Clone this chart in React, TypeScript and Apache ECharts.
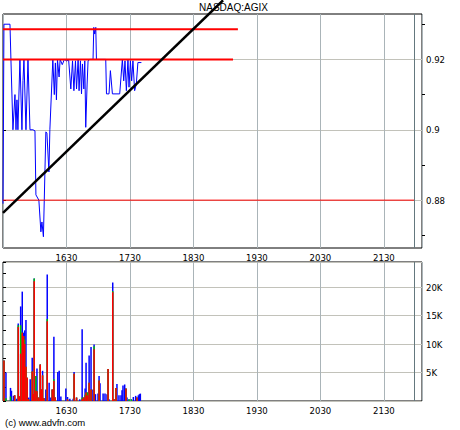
import React, { useEffect, useRef } from "react";
import * as echarts from "echarts";

// ---- price (minutes after 15:30, price) ----
const priceTimes = [
  0, 0.9, 6.6, 7.5, 9.4, 11.3, 12.3, 13.2, 14.1, 16.0, 17.9, 18.9, 19.8, 21.7, 23.6, 25.5, 28.3, 30.2,
  31.1, 33.9, 35.8, 36.8, 38.2, 40.5, 41.5, 43.4, 44.3, 47.1, 48.5, 49.5, 50.5, 51.5, 53, 54, 56, 58,
  60.5, 62, 64.1, 65.7, 67.0, 68.5, 69.5, 71.0, 71.9, 73.2, 74.2, 75.1, 76.4, 77.3, 78.2, 79.5, 80.4,
  82.0, 85.1, 85.8, 86.7, 87.7, 88.3, 97.1, 97.8, 100.2, 101.5, 103.4, 110.3, 112.8, 114.1, 115.3,
  116.6, 118.1, 119.1, 120.4, 121.6, 122.8, 124.4, 126.0, 127.5, 130.8,
];
const prices = [
  0.879, 0.93, 0.93, 0.92, 0.9, 0.91, 0.9, 0.9085, 0.9, 0.92, 0.9, 0.914, 0.92, 0.9, 0.92, 0.9, 0.9, 0.8997,
  0.8815, 0.88, 0.871, 0.8738, 0.8696, 0.8994, 0.8991, 0.888, 0.9, 0.92, 0.91, 0.919, 0.9085, 0.92, 0.915, 0.92, 0.9185, 0.92,
  0.9195, 0.92, 0.9116, 0.9196, 0.9111, 0.9196, 0.9116, 0.92, 0.9111, 0.9196, 0.9102, 0.9187, 0.9116, 0.9196, 0.9007, 0.913, 0.9196,
  0.92, 0.92, 0.9291, 0.9272, 0.9291, 0.92, 0.92, 0.9102, 0.9102, 0.9168, 0.9102, 0.9102, 0.92, 0.9139, 0.9196,
  0.9111, 0.92, 0.9121, 0.9196, 0.9139, 0.9196, 0.9111, 0.913, 0.9191, 0.9191,
];

// ---- volume (thousands), split by colour ----
const volTimes = [
  0.9, 2.8, 7.1, 8.0, 9.9, 11.0, 12.9, 14.4, 15.6, 16.7, 18.2, 19.5, 20.5, 21.7, 22.9, 24.2, 25.7, 27.6,
  28.6, 29.5, 31.1, 32.1, 33.7, 35.2, 36.1, 37.4, 38.7, 40.5, 41.8, 43.6, 45.2, 46.5, 48.1, 49.3, 51.8,
  53.1, 54.7, 59.4, 61.0, 63.2, 66.3, 67.2, 69.5, 72.6, 74.8, 76.1, 77.6, 78.5, 79.8, 81.4, 83.2, 84.2,
  86.1, 87.4, 89.8, 90.8, 91.7, 94.6, 96.4, 98.3, 99.3, 100.2, 103.7, 104.9, 106.8, 107.7, 109.6, 111.5,
  112.5, 113.4, 115.0, 116.2, 117.2, 119.1, 121.3, 123.2, 125.4, 126.6, 127.9, 128.9, 129.8,
];
const volRed = [
  7.1, 0, 0, 0, 0, 1.0, 0, 13.0, 0.8, 8.3, 12.0, 11.4, 10.0, 6.0, 4.1, 0.3, 0, 5.2,
  1.2, 21.0, 1.8, 1.7, 0.6, 6.4, 2.0, 4.5, 0.5, 0, 14.0, 0, 0, 2.0, 3.5, 0.6, 0,
  0, 0, 0, 0.3, 0, 0, 4.8, 0.6, 0, 0.3, 0.6, 0.8, 1.5, 1.0, 3.2, 2.0, 0,
  9.1, 0, 0, 3.6, 0, 0, 0, 0, 5.6, 0, 19.1, 0.3, 2.3, 0, 0, 0,
  0, 0, 0, 2.2, 0, 0, 0, 0, 0, 0.6, 0, 0, 0,
];
const volGreen = [
  0, 0.5, 0.8, 0, 0, 0, 0, 0.3, 0, 5.0, 0, 0, 0.8, 0, 0, 0, 0, 0,
  0, 0.5, 2.6, 0, 0, 0, 0, 0, 0, 0, 0.4, 0, 0, 0, 0.3, 0, 0,
  0, 0, 0, 0, 0, 0, 0, 0, 0, 0.3, 0, 0.3, 0, 0.5, 0, 0, 0,
  0.5, 0, 0, 0, 0, 0, 0, 0, 0, 0, 0.2, 0, 0, 0, 0, 0,
  0, 0, 0, 0, 0, 0.3, 0.3, 0, 0, 0, 0, 0, 0,
];
const volBlue = [
  0, 4.5, 1.5, 1.8, 0.9, 0, 0.4, 0.3, 0, 3.3, 7.2, 0.6, 1.6, 8.2, 0, 0.3, 3.8, 2.4,
  0, 0, 0, 4.0, 0, 0, 0, 0.8, 0, 2.0, 7.8, 3.2, 0.6, 0, 7.5, 0, 5.1,
  5.3, 0.8, 2.2, 0.4, 0.4, 0.4, 0.3, 0, 0.3, 12.0, 0, 1.1, 5.2, 0, 4.8, 7.5, 2.0,
  0.3, 1.2, 1.3, 0.8, 3.1, 1.3, 1.3, 1.2, 0, 0.3, 1.5, 0, 0, 3.0, 1.0, 1.0,
  1.9, 2.7, 2.9, 0, 0.6, 0, 0, 0.7, 0.9, 0, 1.0, 1.2, 1.3,
];

// ---- annotations ----
const upperLineTimes = [0, 222];
const upperLinePrice = 0.9286;
const middleLineTimes = [0, 217.4];
const middleLinePrice = 0.92;
const supportLineTimes = [0, 388.7];
const supportLinePrice = 0.88;
const trendTimes = [0, 208];
const trendPrices = [0.8764, 0.9368];
const closeTime = 388.7;

// ---- axes ----
const priceMin = 0.8664;
const priceMax = 0.9329;
const priceTicks = [0.88, 0.9, 0.92];
const priceMinorTicks = [0.87, 0.89, 0.91, 0.93];
const volMax = 24.4;
const timeMax = 396;
const title = "NASDAQ:AGIX";
const credit = "(c) www.advfn.com";

const FONT = "'Liberation Sans Narrow', 'DejaVu Sans Condensed', 'Liberation Sans', Arial, sans-serif";

const fmtTime = (v: number) => {
  const m = 930 + v;
  const h = Math.floor(m / 60);
  const mm = Math.round(m % 60);
  return `${h}${String(mm).padStart(2, "0")}`;
};

export default function App() {
  const ref = useRef<HTMLDivElement>(null);
  useEffect(() => {
    if (!ref.current) return;
    const chart = echarts.init(ref.current, null, { renderer: "svg" });

    const xAxisFor = (gridIndex: number) => ({
      type: "value",
      gridIndex,
      min: 0,
      max: timeMax,
      interval: 60,
      axisLine: { show: false },
      axisTick: { show: false },
      axisLabel: {
        showMinLabel: false,
        showMaxLabel: false,
        margin: 4,
        fontSize: 9.5,
        color: "#000",
        fontFamily: FONT,
        formatter: (v: number) => (v <= 0 || v >= timeMax ? "" : fmtTime(v)),
      },
      splitLine: { show: true, lineStyle: { color: "#aab4b8", width: 1 } },
    });

    const pair = (ts: number[], p: number) => ts.map((t) => [t, p]);
    const total = volTimes.map((t, i) => [t, volRed[i] + volGreen[i] + volBlue[i]]);
    const redGreen = volTimes.map((t, i) => [t, volRed[i] + volGreen[i]]);
    const redOnly = volTimes.map((t, i) => [t, volRed[i]]);

    const closeMark = {
      silent: true,
      symbol: ["none", "none"],
      label: { show: false },
      lineStyle: { color: "#64787e", type: "solid", width: 1 },
      data: [{ xAxis: closeTime }],
    };

    chart.setOption({
      animation: false,
      backgroundColor: "#fff",
      title: {
        text: title,
        left: 199,
        top: 2,
        padding: 0,
        textStyle: { fontSize: 10, fontWeight: "normal", color: "#000", fontFamily: "'Liberation Sans', Arial, sans-serif" },
      },
      graphic: [
        {
          type: "text",
          left: 5,
          top: 417,
          style: { text: credit, font: "9.5px 'Liberation Sans', Arial, sans-serif", fill: "#000" },
        },
      ],
      grid: [
        { left: 3, top: 14, width: 419, height: 234, show: true, borderColor: "#000", borderWidth: 1, backgroundColor: "transparent" },
        { left: 3, top: 262, width: 419, height: 139, show: true, borderColor: "#000", borderWidth: 1, backgroundColor: "transparent" },
      ],
      xAxis: [xAxisFor(0), xAxisFor(1)],
      yAxis: [
        {
          type: "value",
          gridIndex: 0,
          position: "right",
          min: priceMin,
          max: priceMax,
          axisLine: { show: false },
          axisTick: { show: true, length: 3, customValues: priceTicks, lineStyle: { color: "#000" } },
          axisLabel: {
            customValues: priceTicks,
            margin: 4,
            fontSize: 9.5,
            color: "#000",
            fontFamily: FONT,
            formatter: (v: number) => String(Number(v.toFixed(2))),
          },
          splitLine: { show: true, lineStyle: { color: "#c2c2ba", width: 1 } },
        },
        {
          type: "value",
          gridIndex: 0,
          position: "right",
          min: priceMin,
          max: priceMax,
          axisLine: { show: false },
          axisTick: { show: true, length: 3, customValues: priceMinorTicks, lineStyle: { color: "#000" } },
          axisLabel: { show: false },
          splitLine: { show: false },
        },
        {
          type: "value",
          gridIndex: 1,
          position: "right",
          min: 0,
          max: volMax,
          interval: 5,
          axisLine: { show: false },
          axisTick: { show: true, length: 3, lineStyle: { color: "#000" } },
          minorTick: { show: true, splitNumber: 2, length: 3, lineStyle: { color: "#000" } },
          axisLabel: {
            showMinLabel: false,
            showMaxLabel: false,
            margin: 4,
            fontSize: 9.5,
            color: "#000",
            fontFamily: FONT,
            formatter: (v: number) => (v <= 0 || v >= volMax ? "" : `${v}K`),
          },
          splitLine: { show: true, lineStyle: { color: "#c2c2ba", width: 1 } },
        },
      ],
      series: [
        {
          type: "line",
          xAxisIndex: 0,
          yAxisIndex: 0,
          data: priceTimes.map((t, i) => [t, prices[i]]),
          symbol: "none",
          lineStyle: { color: "#0000ff", width: 1 },
          z: 2,
          markLine: closeMark,
        },
        {
          type: "line",
          xAxisIndex: 0,
          yAxisIndex: 0,
          data: pair(supportLineTimes, supportLinePrice),
          symbol: "none",
          lineStyle: { color: "#ff0000", width: 1 },
          z: 3,
        },
        {
          type: "line",
          xAxisIndex: 0,
          yAxisIndex: 0,
          data: pair(middleLineTimes, middleLinePrice),
          symbol: "none",
          lineStyle: { color: "#ff0000", width: 2 },
          z: 3,
        },
        {
          type: "line",
          xAxisIndex: 0,
          yAxisIndex: 0,
          data: pair(upperLineTimes, upperLinePrice),
          symbol: "none",
          lineStyle: { color: "#ff0000", width: 2 },
          z: 3,
        },
        {
          type: "line",
          xAxisIndex: 0,
          yAxisIndex: 0,
          data: trendTimes.map((t, i) => [t, trendPrices[i]]),
          symbol: "none",
          clip: false,
          lineStyle: { color: "#000", width: 2.5 },
          z: 10,
        },
        {
          type: "bar",
          xAxisIndex: 1,
          yAxisIndex: 2,
          data: total,
          barWidth: 1.5,
          barGap: "-100%",
          itemStyle: { color: "#0000ff" },
          z: 2,
          markLine: closeMark,
        },
        {
          type: "bar",
          xAxisIndex: 1,
          yAxisIndex: 2,
          data: redGreen,
          barWidth: 1.5,
          barGap: "-100%",
          itemStyle: { color: "#00c000" },
          z: 3,
        },
        {
          type: "bar",
          xAxisIndex: 1,
          yAxisIndex: 2,
          data: redOnly,
          barWidth: 1.5,
          barGap: "-100%",
          itemStyle: { color: "#ff0000" },
          z: 4,
        },
      ],
    });
    return () => chart.dispose();
  }, []);

  return (
    <div
      ref={ref}
      style={{ position: "fixed", left: 0, top: 0, width: 460, height: 430, background: "#fff" }}
    />
  );
}
